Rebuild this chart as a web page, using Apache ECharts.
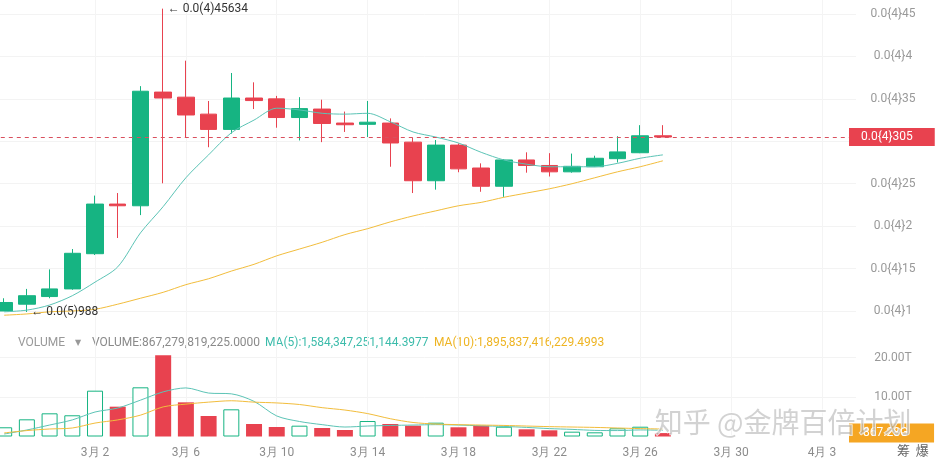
<!DOCTYPE html>
<html><head><meta charset="utf-8">
<script src="https://cdn.jsdelivr.net/npm/echarts/dist/echarts.min.js"></script>
<style>html,body{margin:0;padding:0;background:#fff;overflow:hidden;width:935px;height:461px;position:relative}
#c{position:absolute;left:-20px;top:-40px;width:955px;height:501px}</style>
</head><body><div id="c"></div>
<script>
// ---- data ----
const categories = ['2月 26','2月 27','2月 28','3月 1','3月 2','3月 3','3月 4','3月 5','3月 6','3月 7','3月 8','3月 9','3月 10','3月 11','3月 12','3月 13','3月 14','3月 15','3月 16','3月 17','3月 18','3月 19','3月 20','3月 21','3月 22','3月 23','3月 24','3月 25','3月 26','3月 27','3月 28','3月 29','3月 30','3月 31','4月 1','4月 2','4月 3','4月 4'];
// price in units of 1e-5 : [open, close, low, high]
const ohlc = [
  [1.00,1.10,1.00,1.15],[1.08,1.18,0.988,1.26],[1.17,1.26,1.15,1.49],[1.26,1.68,1.25,1.73],
  [1.675,2.26,1.66,2.36],[2.26,2.24,1.86,2.39],[2.24,3.59,2.13,3.65],[3.58,3.51,2.505,4.5634],
  [3.52,3.31,3.05,3.95],[3.32,3.14,2.93,3.475],[3.14,3.51,3.09,3.805],[3.51,3.48,3.38,3.695],
  [3.50,3.28,3.16,3.535],[3.28,3.385,3.01,3.52],[3.38,3.21,2.99,3.49],[3.215,3.195,3.11,3.35],
  [3.20,3.225,3.05,3.475],[3.215,2.98,2.70,3.27],[2.99,2.535,2.39,3.04],[2.535,2.955,2.43,3.015],
  [2.955,2.675,2.635,2.975],[2.685,2.47,2.405,2.74],[2.47,2.78,2.345,2.79],[2.78,2.715,2.63,2.87],
  [2.715,2.64,2.585,2.86],[2.64,2.705,2.63,2.855],[2.70,2.80,2.70,2.83],[2.795,2.875,2.75,3.06],
  [2.865,3.065,2.86,3.19],[3.065,3.05,3.05,3.19]
];
const priceMA5  = [0.99,1.01,1.07,1.18,1.34,1.52,1.92,2.23,2.57,2.84,3.10,3.25,3.39,3.37,3.33,3.32,3.33,3.23,3.11,3.05,2.98,2.87,2.78,2.73,2.70,2.70,2.70,2.74,2.80,2.84];
const priceMA10 = [0.95,0.965,0.99,1.0,1.02,1.08,1.15,1.22,1.31,1.38,1.47,1.55,1.65,1.73,1.81,1.90,1.97,2.05,2.12,2.18,2.24,2.28,2.34,2.39,2.44,2.50,2.57,2.64,2.70,2.77];
// volume in T
const volume   = [2.33,4.35,5.87,5.37,11.6,7.55,12.45,20.6,8.65,5.19,6.88,3.16,2.4,2.74,2.15,1.65,3.92,3.16,2.74,3.5,2.33,2.74,2.48,1.82,1.57,1.22,1.06,2.07,2.48,0.867];
const volMA5   = [0.63,1.65,2.9,4.2,6.2,7.2,9.2,11.3,12.3,11.0,10.8,8.9,5.2,3.8,3.0,2.4,2.65,2.8,2.9,3.0,2.9,2.7,2.55,2.3,2.0,1.8,1.55,1.5,1.66,1.58];
const volMA10  = [0.9,1.5,1.9,2.15,3.4,4.2,5.4,7.5,8.2,8.7,9.05,8.7,8.5,8.1,7.3,6.7,5.8,4.5,3.55,3.15,3.0,2.9,2.8,2.65,2.5,2.4,2.3,2.15,2.0,1.9];
const lastPrice = 3.05, lastPriceText = '0.0{4}305';
const lastVolume = 0.867, lastVolumeText = '867.28G';
const highMark = {idx: 7, value: 4.5634, text: '0.0(4)45634'};
const lowMark  = {idx: 1, value: 0.988,  text: '0.0(5)988'};
const legendVolume = 'VOLUME:867,279,819,225.0000';
const legendMA5 = 'MA(5):1,584,347,251,144.3977';
const legendMA10 = 'MA(10):1,895,837,416,229.4993';

// ---- style ----
const G = '#16b482', R = '#e8424f', C5 = '#5cc4b6', C10 = '#f2bd3c';
const FONT = 'Roboto, "Noto Sans", sans-serif';
const OX = 20, OY = 40; // container offset (canvas extends past the page edge)
const labelIdx = (i) => i > 0 && i % 4 === 0;

function priceLabel(v) {
  if (v < 0.9 || v > 4.6 || Math.abs(v - 3) < 1e-6) return '';
  let s = String(Math.round(v * 10));
  if (s.endsWith('0')) s = s.slice(0, -1);
  return '0.0{4}' + s;
}

const chart = echarts.init(document.getElementById('c'));
const gridLeft = -7.2 + OX, gridRight = 79;
const hsplit = (n, hideFirst, hideLast) => {
  const a = [];
  for (let i = 0; i < n; i++) a.push('#f3f3f3');
  if (hideFirst) a[0] = 'rgba(0,0,0,0)';
  if (hideLast) a[n - 1] = 'rgba(0,0,0,0)';
  return a;
};
const dashStyle = {type: [4, 4], color: '#d9505e', width: 1, opacity: 1};

chart.setOption({
  animation: false,
  backgroundColor: '#fff',
  textStyle: {fontFamily: FONT},
  grid: [
    {left: gridLeft, right: gridRight, top: -28.4 + OY, height: 381.8},
    {left: gridLeft, right: gridRight, top: 318 + OY, bottom: 24.5}
  ],
  xAxis: [
    {type: 'category', gridIndex: 0, data: categories, boundaryGap: true,
     axisLine: {show: false}, axisTick: {show: false}, axisLabel: {show: false},
     splitLine: {show: true, interval: (i) => labelIdx(i), alignWithLabel: true, lineStyle: {color: '#f4f4f4'}}},
    {type: 'category', gridIndex: 1, data: categories, boundaryGap: true,
     axisLine: {show: false}, axisTick: {show: false},
     axisLabel: {interval: (i) => labelIdx(i), color: '#8c8c8c', fontSize: 12, margin: 10, fontFamily: FONT},
     splitLine: {show: true, interval: (i) => labelIdx(i), alignWithLabel: true, lineStyle: {color: '#f4f4f4'}}}
  ],
  yAxis: [
    {type: 'value', gridIndex: 0, position: 'right', min: 0.5, max: 5.0, interval: 0.5,
     axisLine: {show: false}, axisTick: {show: false},
     axisLabel: {formatter: priceLabel, color: '#999', fontSize: 12, align: 'center', margin: 37, fontFamily: FONT},
     splitLine: {show: true, lineStyle: {color: hsplit(10, true, true)}}},
    {type: 'value', gridIndex: 1, position: 'right', min: 0, max: 30, interval: 10,
     axisLine: {show: false}, axisTick: {show: false},
     axisLabel: {formatter: (v) => (v === 10 || v === 20) ? v.toFixed(2) + 'T' : '', color: '#999', fontSize: 12, align: 'center', margin: 37, fontFamily: FONT},
     splitLine: {show: true, lineStyle: {color: hsplit(4, true, true)}}}
  ],
  series: [
    {type: 'candlestick', xAxisIndex: 0, yAxisIndex: 0, data: ohlc, barWidth: 17,
     itemStyle: {color: G, color0: R, borderColor: G, borderColor0: R, borderWidth: 1},
     markLine: {silent: true, symbol: ['none', 'none'],
       lineStyle: dashStyle,
       label: {show: true, position: 'end', formatter: () => lastPriceText, color: '#fff', backgroundColor: R,
               padding: [3, 22, 3, 12], fontSize: 12, distance: -7, fontFamily: FONT},
       data: [{yAxis: lastPrice, lineStyle: dashStyle}]},
     markPoint: {symbol: 'circle', symbolSize: 1, itemStyle: {color: 'rgba(0,0,0,0)'}, silent: true,
       label: {show: true, position: 'right', distance: 4, color: '#333', fontSize: 12, fontFamily: FONT,
               formatter: (p) => '← ' + p.name},
       data: [
         {name: highMark.text, coord: [categories[highMark.idx], highMark.value]},
         {name: lowMark.text, coord: [categories[lowMark.idx], lowMark.value]}
       ]}
    },
    {type: 'line', xAxisIndex: 0, yAxisIndex: 0, data: priceMA5, showSymbol: false, smooth: 0.3,
     lineStyle: {color: C5, width: 1}, z: 3},
    {type: 'line', xAxisIndex: 0, yAxisIndex: 0, data: priceMA10, showSymbol: false, smooth: 0.3,
     lineStyle: {color: C10, width: 1}, z: 3},
    {type: 'bar', xAxisIndex: 1, yAxisIndex: 1, barWidth: 16,
     data: volume.map((v, i) => {
       const up = ohlc[i][1] >= ohlc[i][0];
       return {value: v, itemStyle: up ? {color: '#fff', borderColor: G, borderWidth: 1} : {color: R}};
     }),
     markLine: {silent: true, symbol: ['none', 'none'], lineStyle: {color: 'rgba(0,0,0,0)', width: 0},
       label: {show: true, position: 'end', formatter: () => lastVolumeText, color: '#fff', backgroundColor: '#f5a623',
               padding: [4, 26, 3, 14], fontSize: 12, distance: -7, fontFamily: FONT},
       data: [{yAxis: lastVolume}]}
    },
    {type: 'line', xAxisIndex: 1, yAxisIndex: 1, data: volMA5, showSymbol: false, smooth: 0.3,
     lineStyle: {color: C5, width: 1}},
    {type: 'line', xAxisIndex: 1, yAxisIndex: 1, data: volMA10, showSymbol: false, smooth: 0.3,
     lineStyle: {color: C10, width: 1}}
  ],
  graphic: [
    {type: 'text', left: 18 + OX, top: 337 + OY, style: {text: 'VOLUME', fill: '#999', font: '12px ' + FONT}},
    {type: 'text', left: 75 + OX, top: 339 + OY, style: {text: '▼', fill: '#999', font: '8px "DejaVu Sans"'}},
    {type: 'text', left: 92 + OX, top: 337 + OY, style: {text: legendVolume, fill: '#8a8a8a', font: '12px ' + FONT}},
    {type: 'text', left: 265 + OX, top: 337 + OY, style: {text: legendMA5, fill: '#3dbcab', font: '12px ' + FONT}},
    {type: 'text', left: 434 + OX, top: 337 + OY, style: {text: legendMA10, fill: '#eeb422', font: '12px ' + FONT}},
    {type: 'text', left: 897 + OX, top: 444 + OY, style: {text: '筹  爆', fill: '#666', font: '13px "Noto Sans CJK SC"'}},
    {type: 'text', left: 654 + OX, top: 408 + OY, z: 100,
     style: {text: '知乎 @金牌百倍计划', fill: 'rgba(165,165,165,0.5)', stroke: 'rgba(255,255,255,0.8)', lineWidth: 1.5,
             font: '28px "Noto Sans CJK SC"'}}
  ]
});
</script></body></html>
